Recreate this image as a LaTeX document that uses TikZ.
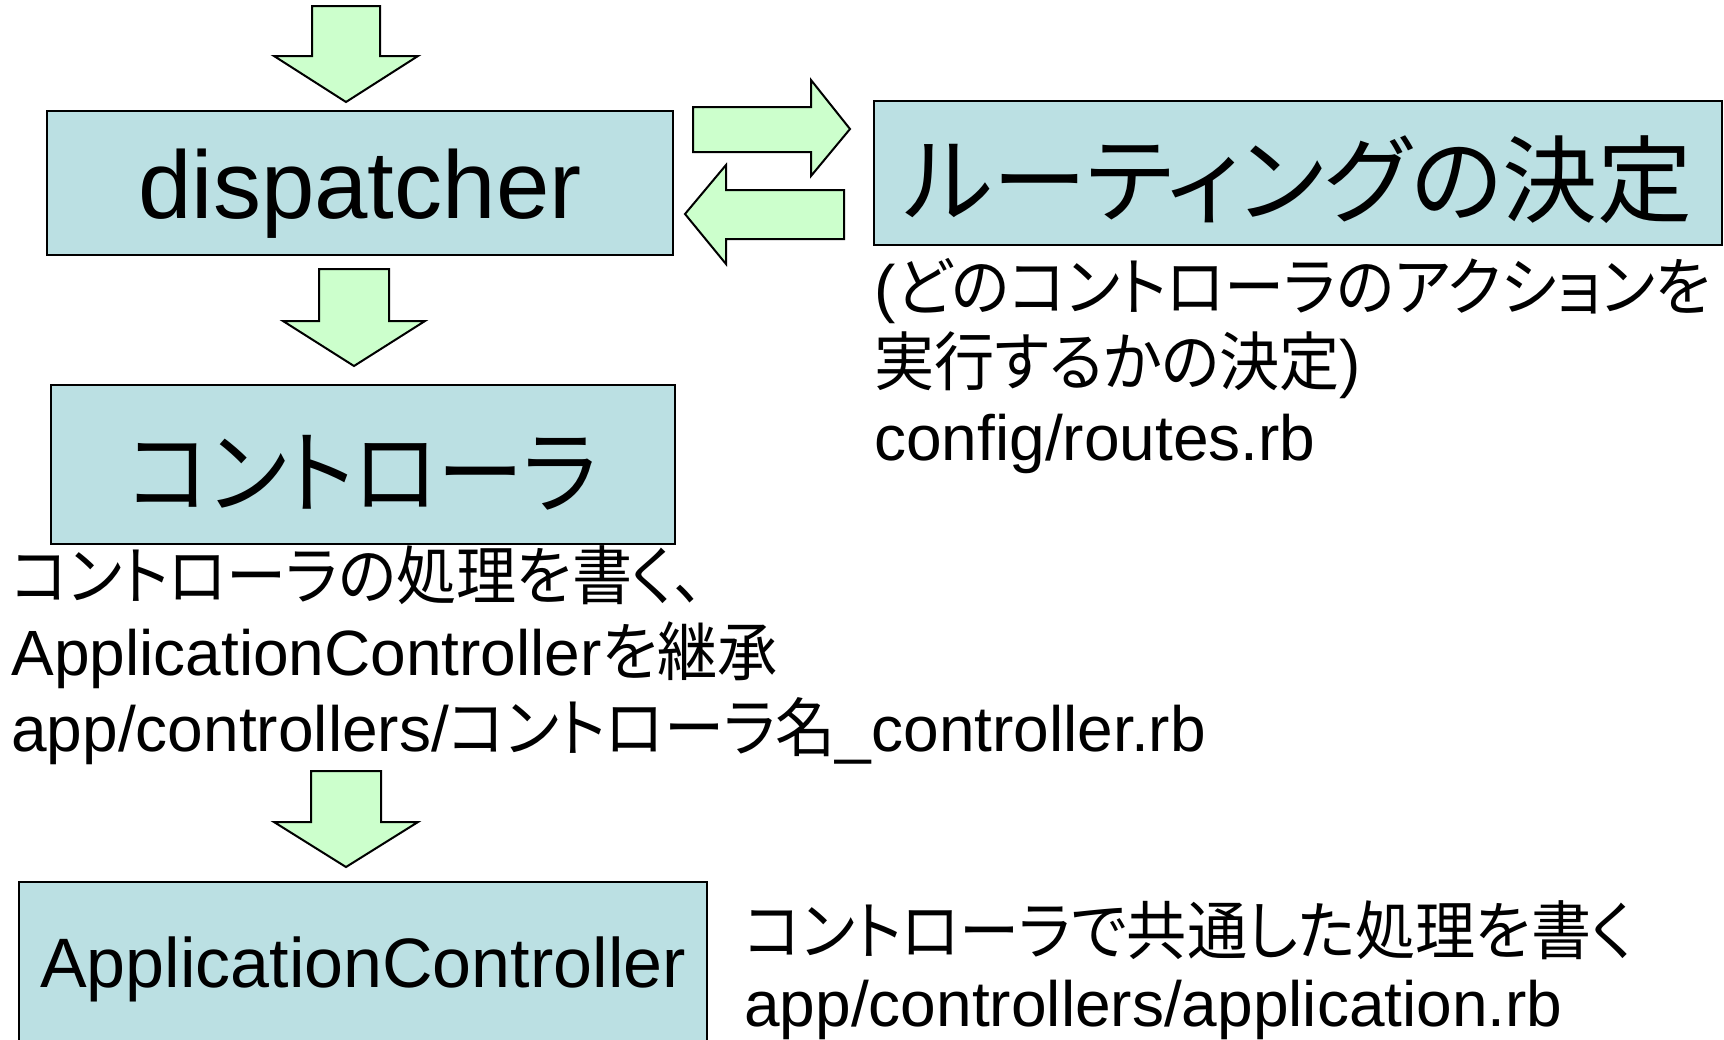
\documentclass[tikz,border=0pt]{standalone}
\usepackage{fontspec}
\setmainfont{Liberation Sans}
\newfontfamily\ja[RawFeature=+palt]{Noto Sans CJK JP}
\newfontfamily\jac[RawFeature=+palt, FakeStretch=0.94]{Noto Sans CJK JP}
\definecolor{boxblue}{HTML}{BBE0E3}
\definecolor{arrowgreen}{HTML}{CCFFCC}
\tikzset{
  box/.style={draw=black, line width=1pt, fill=boxblue, inner sep=0pt, align=center},
  blk/.style={draw=black, line width=1pt, fill=arrowgreen, line join=miter},
  small/.style={font=\fontsize{32}{38}\selectfont, inner sep=0pt, anchor=base west},
  boxtext/.style={inner sep=0pt},
}
\newcommand\blkdown[6]{% cx, top, shaft bottom, tip, shaft half, head half
  \draw[blk] (#1-#5,#2) -- (#1+#5,#2) -- (#1+#5,#3) -- (#1+#6,#3) -- (#1,#4) -- (#1-#6,#3) -- (#1-#5,#3) -- cycle;}
\begin{document}
\begin{tikzpicture}[x=0.5pt,y=-0.5pt]
\useasboundingbox (0,0) rectangle (1724,1039);
\clip (0,0) rectangle (1724,1039);
\fill[white] (0,0) rectangle (1724,1039);

% boxes
\node[box, minimum width=313pt, minimum height=72pt] (disp) at (360,183) {};
\node[boxtext, font=\fontsize{48}{52}\selectfont, yshift=-5.5pt] (dispt) at (disp.center) {dispatcher};
\node[box, minimum width=424pt, minimum height=72pt] (route) at (1298,173) {};
\node[boxtext, font=\fontsize{47.5}{52}\selectfont\ja, yshift=-3.5pt] (routet) at (route.center) {ルーティングの決定};
\node[box, minimum width=312pt, minimum height=79.5pt] (ctrl) at (363,464.5) {};
\node[boxtext, font=\fontsize{46}{50}\selectfont\jac, yshift=-4pt] (ctrlt) at (ctrl.center) {コントローラ};
\node[box, minimum width=344pt, minimum height=81.5pt] (app) at (363,963.5) {};
\node[boxtext, font=\fontsize{35}{40}\selectfont, yshift=-3pt] (appt) at (app.center) {ApplicationController};

% block arrows
\blkdown{346}{6}{56}{102}{34}{72}
\blkdown{354}{269}{321}{366}{35}{71}
\blkdown{346}{771}{822}{867}{35}{72}
% right arrow (dispatcher -> routing)
\draw[blk] (693,107) -- (811,107) -- (811,80) -- (850,129) -- (811,176) -- (811,152) -- (693,152) -- cycle;
% left arrow (routing -> dispatcher)
\draw[blk] (844,190) -- (726,190) -- (726,165) -- (685,214) -- (726,264) -- (726,239) -- (844,239) -- cycle;

% texts
\node[small] (r1) at (874,310) {({\jac どのコントローラのアクションを}};
\node[small] (r2) at (874,385) {{\jac 実行するかの決定})};
\node[small] (r3) at (874,460) {config/routes.rb};

\node[small] (l1) at (11,599) {{\jac コントローラの処理を書く、}};
\node[small] (l2) at (11,675) {ApplicationController{\jac を継承}};
\node[small] (l3) at (11,751) {app/controllers/{\jac コントローラ名}\_controller.rb};

\node[small] (b1) at (744,954) {{\jac コントローラで共通した処理を書く}};
\node[small] (b2) at (744,1026) {app/controllers/application.rb};
\end{tikzpicture}
\end{document}
